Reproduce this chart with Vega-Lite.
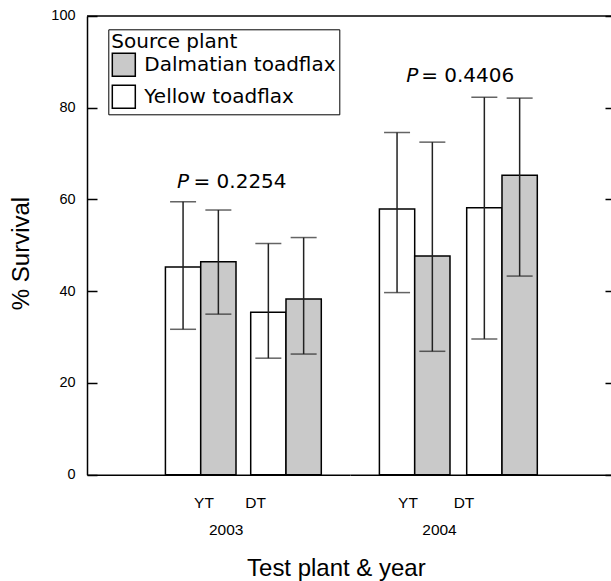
{
  "$schema": "https://vega.github.io/schema/vega-lite/v6.json",
  "background": "white",
  "padding": {"left": 9, "top": 8, "right": 0, "bottom": 0},
  "bounds": "flush",
  "spacing": 0,
  "config": {
    "view": {"stroke": null},
    "font": "Liberation Sans",
    "axis": {
      "labelFont": "Liberation Sans",
      "titleFont": "Liberation Sans",
      "labelColor": "black",
      "titleColor": "black",
      "domainColor": "black",
      "tickColor": "black",
      "domainWidth": 1.5,
      "tickWidth": 1.5,
      "grid": false,
      "titleFontWeight": "normal"
    }
  },
  "title": {
    "text": "Test plant & year",
    "orient": "bottom",
    "font": "Liberation Sans",
    "fontSize": 24,
    "fontWeight": "normal",
    "color": "black",
    "anchor": "middle",
    "dx": 24,
    "offset": 19
  },
  "datasets": {
    "bars": [
      {"year": "2003", "plant": "YT", "source": "Yellow toadflax", "mean": 45.3, "low": 31.7, "high": 59.5},
      {"year": "2003", "plant": "YT", "source": "Dalmatian toadflax", "mean": 46.4, "low": 35.0, "high": 57.7},
      {"year": "2003", "plant": "DT", "source": "Yellow toadflax", "mean": 35.4, "low": 25.4, "high": 50.4},
      {"year": "2003", "plant": "DT", "source": "Dalmatian toadflax", "mean": 38.3, "low": 26.3, "high": 51.7},
      {"year": "2004", "plant": "YT", "source": "Yellow toadflax", "mean": 57.9, "low": 39.7, "high": 74.6},
      {"year": "2004", "plant": "YT", "source": "Dalmatian toadflax", "mean": 47.7, "low": 26.9, "high": 72.5},
      {"year": "2004", "plant": "DT", "source": "Yellow toadflax", "mean": 58.2, "low": 29.6, "high": 82.3},
      {"year": "2004", "plant": "DT", "source": "Dalmatian toadflax", "mean": 65.3, "low": 43.3, "high": 82.1}
    ],
    "ptext": [
      {"year": "2003", "plant": "DT", "label": "= 0.2254", "ypos": 62.4},
      {"year": "2004", "plant": "DT", "label": "= 0.4406", "ypos": 85.7}
    ]
  },
  "resolve": {
    "scale": {"x": "independent", "y": "independent", "xOffset": "independent", "color": "shared"},
    "legend": {"color": "shared"}
  },
  "hconcat": [
    {
      "width": 263,
      "height": 458.7,
      "layer": [
        {
          "data": {"name": "bars"},
          "transform": [{"filter": "datum.year == '2003'"}],
          "mark": {"type": "bar", "stroke": "black", "strokeWidth": 1.5},
          "encoding": {
            "x": {
              "field": "plant", "type": "nominal", "sort": ["YT", "DT"],
              "scale": {"paddingInner": 0.1723, "paddingOuter": 0.628, "align": 0.732},
              "axis": {
                "title": "2003", "titleX": 138.7, "titleY": 60.3, "titleBaseline": "alphabetic",
                "titleFont": "Liberation Sans", "labelFont": "Liberation Sans",
                "titleFontSize": 15.5, "labelFontSize": 15.5, "labelAngle": 0, "labelPadding": 21,
                "ticks": false,
                "labelOffset": {"condition": {"test": "datum.value == 'DT'", "value": -30.3}, "value": 3.3}
              }
            },
            "xOffset": {"field": "source", "type": "nominal", "sort": ["Yellow toadflax", "Dalmatian toadflax"], "scale": {"paddingInner": 0, "paddingOuter": 0}},
            "y": {
              "field": "mean", "type": "quantitative",
              "scale": {"domain": [0, 100]},
              "axis": {
                "orient": "left", "values": [0, 20, 40, 60, 80, 100], "tickSize": -10, "labelPadding": 22,
                "labelFont": "Liberation Sans", "titleFont": "Liberation Sans",
                "labelFontSize": 14.5, "title": "% Survival", "titleFontSize": 24,
                "titleX": -59, "titleY": 237, "titleBaseline": "alphabetic", "titleAngle": 270
              }
            },
            "color": {
              "field": "source", "type": "nominal",
              "scale": {"domain": ["Dalmatian toadflax", "Yellow toadflax"], "range": ["#c9c9c9", "#ffffff"]},
              "legend": {
                "orient": "none", "legendX": 21.3, "legendY": 13.3,
                "title": "Source plant", "titleFont": "DejaVu Sans", "titleFontSize": 20, "titleFontWeight": "normal", "titleColor": "black",
                "labelFont": "DejaVu Sans", "labelFontSize": 20, "labelColor": "black", "labelLimit": 400,
                "labelExpr": "datum.label + '\u00a0'",
                "symbolType": "square", "symbolSize": 529, "symbolStrokeColor": "black", "symbolStrokeWidth": 1.5,
                "strokeColor": "black", "padding": 3, "labelOffset": 8, "rowPadding": 3, "titlePadding": 0
              }
            }
          }
        },
        {
          "data": {"name": "bars"},
          "transform": [{"filter": "datum.year == '2003'"}],
          "mark": {"type": "rule", "strokeWidth": 1.5, "color": "#222"},
          "encoding": {
            "x": {"field": "plant", "type": "nominal", "sort": ["YT", "DT"]},
            "xOffset": {"field": "source", "type": "nominal", "sort": ["Yellow toadflax", "Dalmatian toadflax"]},
            "y": {"field": "low", "type": "quantitative"},
            "y2": {"field": "high"}
          }
        },
        {
          "data": {"name": "bars"},
          "transform": [{"filter": "datum.year == '2003'"}],
          "mark": {"type": "tick", "size": 26, "thickness": 1.5, "color": "#222"},
          "encoding": {
            "x": {"field": "plant", "type": "nominal", "sort": ["YT", "DT"]},
            "xOffset": {"field": "source", "type": "nominal", "sort": ["Yellow toadflax", "Dalmatian toadflax"]},
            "y": {"field": "low", "type": "quantitative"}
          }
        },
        {
          "data": {"name": "bars"},
          "transform": [{"filter": "datum.year == '2003'"}],
          "mark": {"type": "tick", "size": 26, "thickness": 1.5, "color": "#222"},
          "encoding": {
            "x": {"field": "plant", "type": "nominal", "sort": ["YT", "DT"]},
            "xOffset": {"field": "source", "type": "nominal", "sort": ["Yellow toadflax", "Dalmatian toadflax"]},
            "y": {"field": "high", "type": "quantitative"}
          }
        },
        {
          "data": {"values": [{}]},
          "mark": {"type": "rule", "strokeWidth": 1.5, "color": "black"},
          "encoding": {"y": {"datum": 100, "type": "quantitative"}}
        },
        {
          "data": {"name": "ptext"},
          "transform": [{"filter": "datum.year == '2003'"}],
          "mark": {"type": "text", "text": "P", "font": "DejaVu Sans", "fontStyle": "italic", "fontSize": 20, "align": "right", "baseline": "alphabetic", "dx": -97, "color": "black"},
          "encoding": {
            "x": {"field": "plant", "type": "nominal", "sort": ["YT", "DT"]},
            "y": {"field": "ypos", "type": "quantitative"}
          }
        },
        {
          "data": {"name": "ptext"},
          "transform": [{"filter": "datum.year == '2003'"}],
          "mark": {"type": "text", "font": "DejaVu Sans", "fontSize": 20, "align": "left", "baseline": "alphabetic", "dx": -92.5, "color": "black"},
          "encoding": {
            "x": {"field": "plant", "type": "nominal", "sort": ["YT", "DT"]},
            "y": {"field": "ypos", "type": "quantitative"},
            "text": {"field": "label"}
          }
        }
      ]
    },
    {
      "width": 265,
      "height": 458.7,
      "layer": [
        {
          "data": {"name": "bars"},
          "transform": [{"filter": "datum.year == '2004'"}],
          "mark": {"type": "bar", "stroke": "black", "strokeWidth": 1.5},
          "encoding": {
            "x": {
              "field": "plant", "type": "nominal", "sort": ["YT", "DT"],
              "scale": {"paddingInner": 0.1913, "paddingOuter": 0.6134, "align": 0.2745},
              "axis": {
                "title": "2004", "titleX": 89, "titleY": 60.3, "titleBaseline": "alphabetic",
                "titleFont": "Liberation Sans", "labelFont": "Liberation Sans",
                "titleFontSize": 15.5, "labelFontSize": 15.5, "labelAngle": 0, "labelPadding": 21,
                "ticks": false,
                "labelOffset": {"condition": {"test": "datum.value == 'DT'", "value": -38}, "value": -6.7}
              }
            },
            "xOffset": {"field": "source", "type": "nominal", "sort": ["Yellow toadflax", "Dalmatian toadflax"], "scale": {"paddingInner": 0, "paddingOuter": 0}},
            "y": {
              "field": "mean", "type": "quantitative",
              "scale": {"domain": [0, 100]},
              "axis": {
                "orient": "right", "values": [0, 20, 40, 60, 80, 100], "tickSize": -10,
                "labels": false, "title": null, "domain": false
              }
            },
            "color": {
              "field": "source", "type": "nominal",
              "scale": {"domain": ["Dalmatian toadflax", "Yellow toadflax"], "range": ["#c9c9c9", "#ffffff"]},
              "legend": null
            }
          }
        },
        {
          "data": {"name": "bars"},
          "transform": [{"filter": "datum.year == '2004'"}],
          "mark": {"type": "rule", "strokeWidth": 1.5, "color": "#222"},
          "encoding": {
            "x": {"field": "plant", "type": "nominal", "sort": ["YT", "DT"]},
            "xOffset": {"field": "source", "type": "nominal", "sort": ["Yellow toadflax", "Dalmatian toadflax"]},
            "y": {"field": "low", "type": "quantitative"},
            "y2": {"field": "high"}
          }
        },
        {
          "data": {"name": "bars"},
          "transform": [{"filter": "datum.year == '2004'"}],
          "mark": {"type": "tick", "size": 26, "thickness": 1.5, "color": "#222"},
          "encoding": {
            "x": {"field": "plant", "type": "nominal", "sort": ["YT", "DT"]},
            "xOffset": {"field": "source", "type": "nominal", "sort": ["Yellow toadflax", "Dalmatian toadflax"]},
            "y": {"field": "low", "type": "quantitative"}
          }
        },
        {
          "data": {"name": "bars"},
          "transform": [{"filter": "datum.year == '2004'"}],
          "mark": {"type": "tick", "size": 26, "thickness": 1.5, "color": "#222"},
          "encoding": {
            "x": {"field": "plant", "type": "nominal", "sort": ["YT", "DT"]},
            "xOffset": {"field": "source", "type": "nominal", "sort": ["Yellow toadflax", "Dalmatian toadflax"]},
            "y": {"field": "high", "type": "quantitative"}
          }
        },
        {
          "data": {"values": [{}]},
          "mark": {"type": "rule", "strokeWidth": 1.5, "color": "black"},
          "encoding": {"y": {"datum": 100, "type": "quantitative"}}
        },
        {
          "data": {"name": "ptext"},
          "transform": [{"filter": "datum.year == '2004'"}],
          "mark": {"type": "text", "text": "P", "font": "DejaVu Sans", "fontStyle": "italic", "fontSize": 20, "align": "right", "baseline": "alphabetic", "dx": -83.7, "color": "black"},
          "encoding": {
            "x": {"field": "plant", "type": "nominal", "sort": ["YT", "DT"]},
            "y": {"field": "ypos", "type": "quantitative"}
          }
        },
        {
          "data": {"name": "ptext"},
          "transform": [{"filter": "datum.year == '2004'"}],
          "mark": {"type": "text", "font": "DejaVu Sans", "fontSize": 20, "align": "left", "baseline": "alphabetic", "dx": -80.8, "color": "black"},
          "encoding": {
            "x": {"field": "plant", "type": "nominal", "sort": ["YT", "DT"]},
            "y": {"field": "ypos", "type": "quantitative"},
            "text": {"field": "label"}
          }
        }
      ]
    }
  ]
}
